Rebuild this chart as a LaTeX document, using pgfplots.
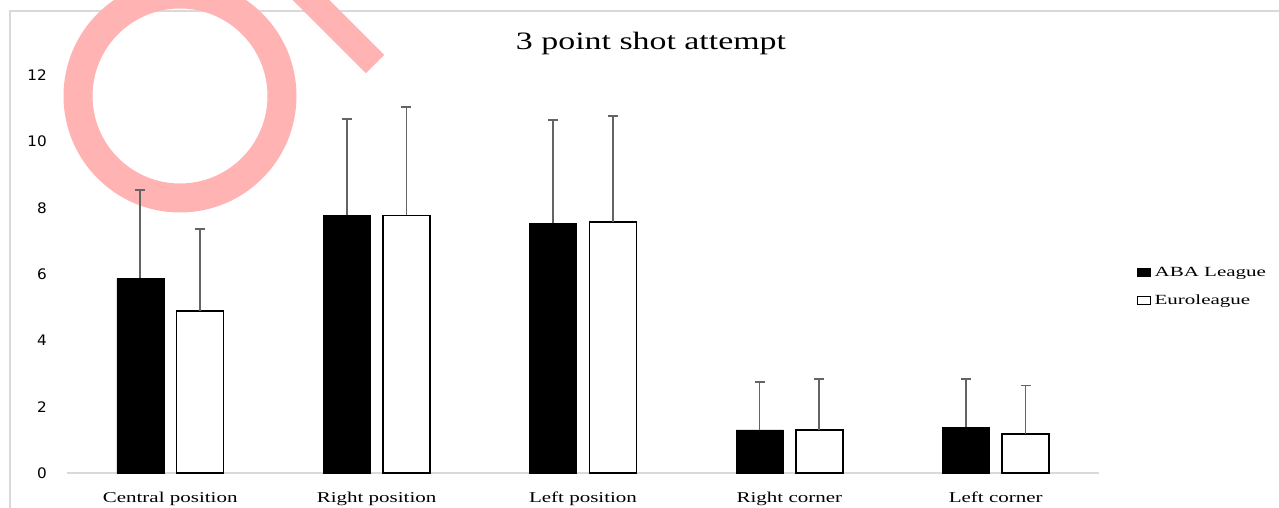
\documentclass[border=0pt]{standalone}
\usepackage{fontspec}
\setmainfont{Liberation Serif}[FakeStretch=1.4]
\newfontfamily\legfont{Liberation Serif}[FakeStretch=1.5]
\newfontfamily\titlefont{Liberation Serif}[FakeStretch=1.355]
\newfontfamily\dejavu{DejaVu Sans}[FakeStretch=1.05]
\usepackage{pgfplots}
\pgfplotsset{compat=1.18}
\usepackage{pgfplotstable}

\pgfplotstableread{
x y e
0 5.87 2.66
1 7.77 2.90
2 7.53 3.11
3 1.30 1.44
4 1.38 1.45
}\aba
\pgfplotstableread{
x y e
0 4.88 2.48
1 7.77 3.26
2 7.57 3.19
3 1.30 1.53
4 1.17 1.47
}\euro

\definecolor{wm}{RGB}{255,179,179}
\definecolor{framec}{RGB}{217,217,217}
\definecolor{errc}{RGB}{100,100,100}

\begin{document}
\begin{tikzpicture}
\useasboundingbox (0pt,0pt) rectangle (1279pt,507pt);
\draw[framec, line width=1.2pt] (10pt,-20pt) -- (10pt,496pt) -- (1300pt,496pt);
% watermark
\draw[wm, line width=29pt] (180pt,411pt) circle[radius=102pt];
\draw[wm, line width=26pt] (300pt,518pt) -- (375pt,443pt);
\begin{axis}[
  at={(67pt,34pt)}, anchor=south west,
  scale only axis, width=1032pt, height=431pt,
  xmin=-0.5, xmax=4.5, ymin=0, ymax=13,
  ybar=12.7pt, bar width=47pt,
  axis x line*=bottom, axis y line*=left,
  x axis line style={framec, line width=1.5pt, -},
  y axis line style={draw=none},
  tick style={draw=none},
  ytick={0,2,...,12},
  xtick={0,...,4},
  xticklabels={Central position, Right position, Left position, Right corner, Left corner},
  yticklabel style={font=\dejavu\fontsize{14.5}{14.5}\selectfont, anchor=east, inner sep=0pt, xshift=-20pt},
  xticklabel style={font=\fontsize{15}{15}\selectfont, anchor=base, yshift=-25pt},
  /pgf/number format/assume math mode=true,
  legend style={draw=none, fill=none, at={(1.0365,0.432)}, anchor=west,
    font=\legfont\fontsize{14}{14}\selectfont, row sep=10pt, inner sep=0pt,
    nodes={inner sep=3.5pt}},
  legend cell align=left,
  legend image code/.code={\draw[#1, line width=1pt] (0pt,-3.75pt) rectangle (13.3pt,3.75pt);},
  clip=false,
]
\addplot[fill=black, draw=black,
  error bars/.cd, y dir=plus, y explicit,
  error bar style={errc, line width=1.7pt},
  error mark options={errc, rotate=90, mark size=5pt, line width=1.7pt}]
  table[x=x, y=y, y error=e]{\aba};
\addlegendentry{ABA League}
\addplot[fill=white, draw=black, line width=1.6pt,
  error bars/.cd, y dir=plus, y explicit,
  error bar style={errc, line width=1.7pt},
  error mark options={errc, rotate=90, mark size=5pt, line width=1.7pt}]
  table[x=x, y=y, y error=e]{\euro};
\addlegendentry{Euroleague}
\end{axis}
\node[anchor=base, font=\titlefont\fontsize{25}{25}\selectfont] at (651pt,457.7pt) {3 point shot attempt};
\end{tikzpicture}
\end{document}
